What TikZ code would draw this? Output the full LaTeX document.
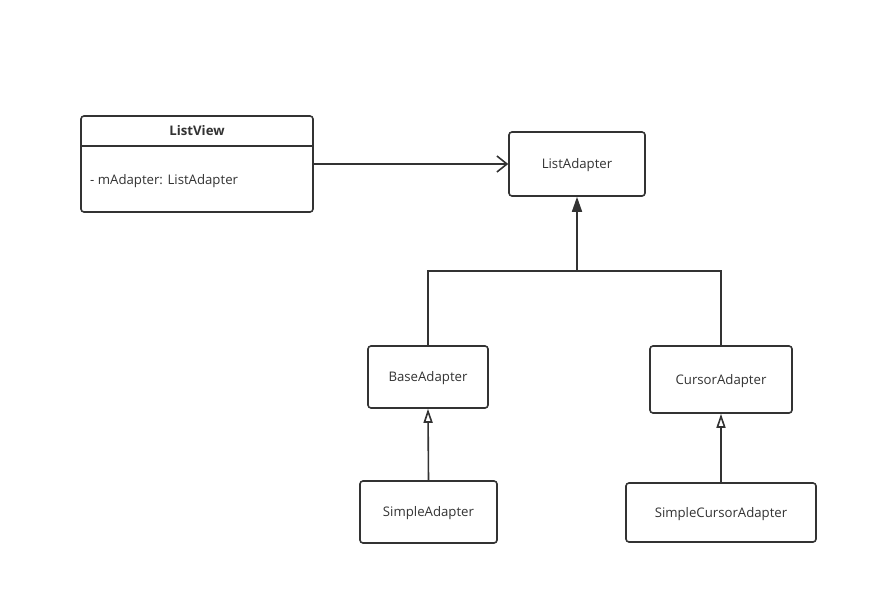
\documentclass[tikz,border=0pt]{standalone}
\usepackage{fontspec}
\setmainfont{Open Sans}
\usetikzlibrary{arrows.meta}
\definecolor{ink}{HTML}{333333}
\tikzset{
  cls/.style={draw=ink, line width=1.6pt, rounded corners=3pt, fill=white, text=ink, font=\fontsize{13.2}{15}\selectfont, inner sep=0pt, text height=9.5pt, text depth=0pt},
  conn/.style={draw=ink, line width=1.6pt},
  lbl/.style={text=ink, font=\fontsize{13.2}{15}\selectfont, inner sep=0pt, text height=9.5pt, text depth=0pt}
}
\begin{document}
\begin{tikzpicture}[x=1pt,y=-1pt]
\useasboundingbox (0,0) rectangle (878,605);
% ListView class
\node[cls, minimum width=232pt, minimum height=96pt] (lv) at (197,164) {};
\node[lbl] (lvt) at (197,131) {\bfseries ListView};
\node[lbl, anchor=west] (lva) at (90,180) {- mAdapter: ListAdapter};
\coordinate (hl) at (81,146);
\coordinate (hr) at (313,146);
\draw[conn] (hl) -- (hr);
% other classes
\node[cls, minimum width=136pt, minimum height=64pt] (la) at (577,164) {ListAdapter};
\node[cls, minimum width=120pt, minimum height=62pt] (ba) at (428,377) {BaseAdapter};
\node[cls, minimum width=142pt, minimum height=67pt] (ca) at (721,379.5) {CursorAdapter};
\node[cls, minimum width=137pt, minimum height=62pt] (sa) at (428.5,512) {SimpleAdapter};
\node[cls, minimum width=190pt, minimum height=59pt] (sca) at (721,512.5) {SimpleCursorAdapter};
% association
\draw[conn, -{Straight Barb[length=10pt,width=16pt,line width=1.6pt]}] (lv.east |- la.west) -- (la.west);
% generalization tree
\coordinate (j) at (577,271);
\draw[conn] (ba.north) |- (j) -| (ca.north);
\draw[conn, -{Triangle[length=15pt,width=10pt]}] (j) -- (la.south);
% inheritance with small hollow triangles
\draw[conn, -{Triangle[open,length=14pt,width=9pt,line width=1.6pt]}] (sa.north) -- (ba.south);
\draw[conn, -{Triangle[open,length=14pt,width=9pt,line width=1.6pt]}] (sca.north) -- (ca.south);
\end{tikzpicture}
\end{document}
